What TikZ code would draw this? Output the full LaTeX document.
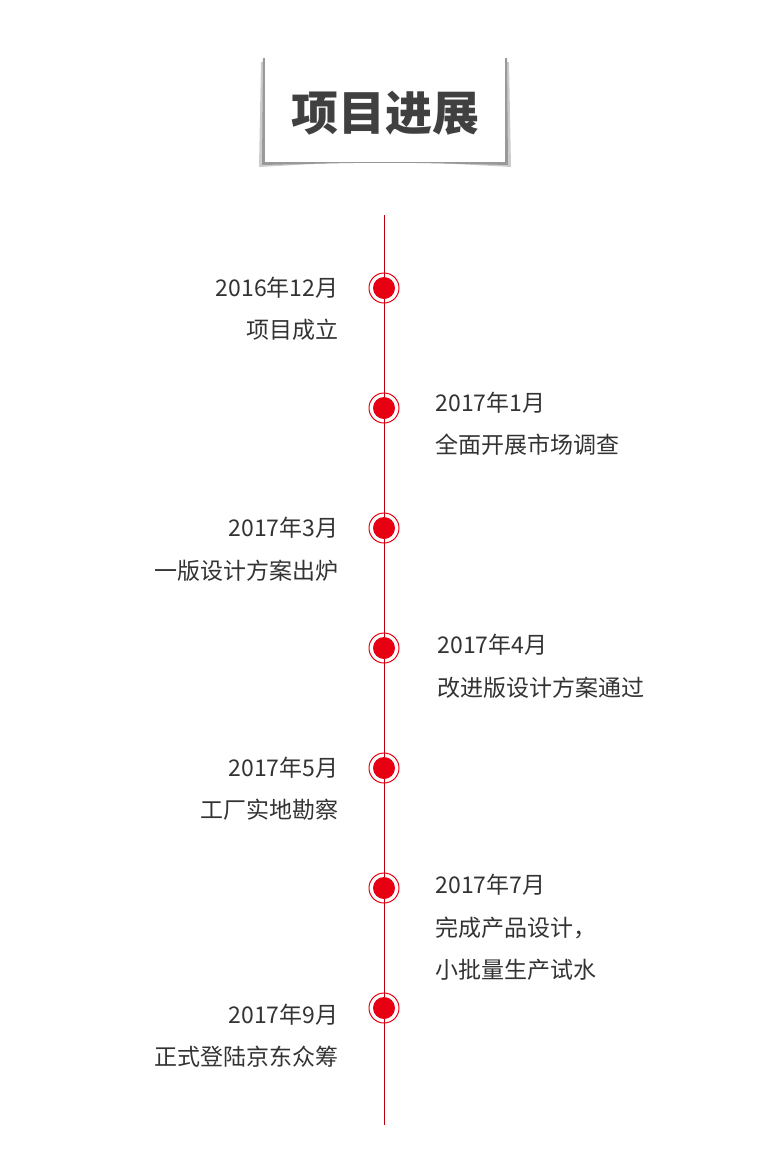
\documentclass[tikz,border=0pt]{standalone}
\usepackage{fontspec}
\setmainfont{Noto Sans CJK SC}
\usepackage{tikz}
\usetikzlibrary{positioning}
\definecolor{dotred}{HTML}{E60012}
\definecolor{txt}{HTML}{333333}
\tikzset{
  dot/.style={circle,fill=dotred,minimum size=22pt,inner sep=0pt},
  ring/.style={circle,draw=dotred,line width=1pt,minimum size=30pt,inner sep=0pt},
  dateL/.style={anchor=east,text=txt,font=\fontsize{23}{23}\selectfont},
  dateR/.style={anchor=west,text=txt,font=\fontsize{23}{23}\selectfont},
}
\begin{document}
\begin{tikzpicture}[x=1pt,y=-1pt]
      \useasboundingbox (0,0) rectangle (770,1171);
      % title card
      \fill[black!20] (261,62) -- (509,62) -- (511,167) .. controls (385,160) .. (259,167) -- cycle;
      \fill[black!40] (263,58) -- (507,58) -- (508,165) .. controls (385,162) .. (262,165) -- cycle;
      \fill[white] (265,55) rectangle (505,162);
      \node[text=black!75,font=\fontsize{47}{47}\selectfont\bfseries] (title) at (385,113){项目进展};

      \coordinate (top) at (384,215);
      \coordinate (bot) at (384,1125);
      \draw[dotred!80!black,line width=1pt] (top) -- (bot);

      \foreach \i/\y in {1/288,2/408,3/528,4/648,5/768,6/888,7/1008}{
        \node[ring] (r\i) at (384,\y){};
        \node[dot] (d\i) at (384,\y){};
      }

      \node[dateL] (a1) at (342,288){2016年12月};
      \node[dateL] (b1) at (342,330){项目成立};
      \node[dateR] (a2) at (432,403){2017年1月};
      \node[dateR] (b2) at (432,445){全面开展市场调查};
      \node[dateL] (a3) at (342,528){2017年3月};
      \node[dateL] (b3) at (342,571){一版设计方案出炉};
      \node[dateR] (a4) at (434,645){2017年4月};
      \node[dateR] (b4) at (434,688){改进版设计方案通过};
      \node[dateL] (a5) at (342,768){2017年5月};
      \node[dateL] (b5) at (342,810){工厂实地勘察};
      \node[dateR] (a6) at (432,885){2017年7月};
      \node[dateR] (b6) at (432,928){完成产品设计，};
      \node[dateR] (c6) at (432,970){小批量生产试水};
      \node[dateL] (a7) at (342,1015){2017年9月};
      \node[dateL] (b7) at (342,1057){正式登陆京东众筹};
\end{tikzpicture}
\end{document}
